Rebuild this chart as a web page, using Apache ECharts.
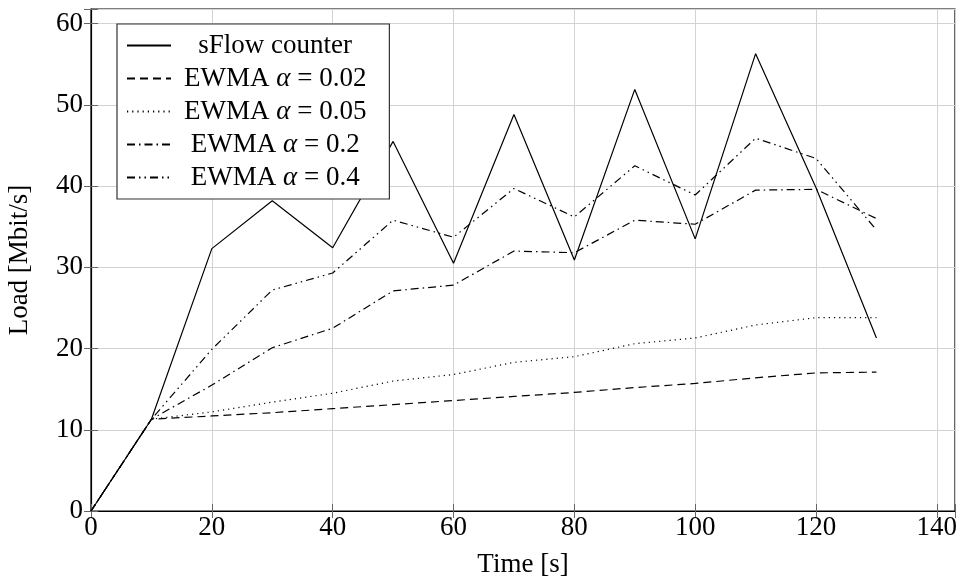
<!DOCTYPE html>
<html><head><meta charset="utf-8">
<script src="https://cdn.jsdelivr.net/npm/echarts@6/dist/echarts.min.js"></script>
<style>html,body{margin:0;padding:0;background:#fff}#c{width:961px;height:586px}</style>
</head><body><div id="c"></div>
<script>
const times = [0,10,20,30,40,50,60,70,80,90,100,110,120,130];
const sflow = [0, 11.3, 32.3, 38.2, 32.4, 45.5, 30.5, 48.8, 30.9, 51.9, 33.5, 56.3, 39.8, 21.3];
const ewma002 = [0, 11.3, 11.7, 12.1, 12.6, 13.1, 13.6, 14.1, 14.6, 15.2, 15.7, 16.4, 17.0, 17.1];
const ewma005 = [0, 11.3, 12.2, 13.4, 14.5, 16.0, 16.8, 18.3, 19.0, 20.6, 21.3, 22.9, 23.8, 23.8];
const ewma02 = [0, 11.3, 15.5, 20.1, 22.5, 27.1, 27.8, 32.0, 31.8, 35.8, 35.3, 39.5, 39.6, 36.0];
const ewma04 = [0, 11.3, 19.9, 27.2, 29.3, 35.8, 33.7, 39.7, 36.2, 42.5, 38.9, 45.9, 43.4, 34.6];
const xTicks = [0,20,40,60,80,100,120,140];
const yTicks = [0,10,20,30,40,50,60];
const seriesNames = ['sFlow counter','EWMA α = 0.02','EWMA α = 0.05','EWMA α = 0.2','EWMA α = 0.4'];

const FONT = '"Liberation Serif", "Times New Roman", serif';
const FS = 27;
const LFS = 27;
const dashes = ['solid', [8,5], [1.2,4], [8,4,1.5,4], [8,4,1.5,4,1.5,4]];
const values = [sflow, ewma002, ewma005, ewma02, ewma04];

const cv = document.createElement('canvas').getContext('2d');
function w(t, italic){ cv.font = (italic?'italic ':'') + LFS + 'px ' + FONT; return cv.measureText(t).width; }
function parts(name){
  const i = name.indexOf('α');
  if (i < 0) return [name, '', ''];
  return [name.slice(0,i), 'α', name.slice(i+1)];
}
const widths = seriesNames.map(n => { const p = parts(n); return w(p[0]) + w(p[1], true) + w(p[2]); });
const maxW = Math.max(...widths);
const rich = { i: {fontFamily: FONT, fontSize: LFS, fontStyle: 'italic', color:'#000', lineHeight: 27},
               n: {fontFamily: FONT, fontSize: LFS, color:'#000', lineHeight: 27} };
seriesNames.forEach((n, k) => {
  rich['p'+k] = {fontFamily: FONT, fontSize: LFS, color:'#000', lineHeight: 27, padding:[0,0,0,8 + (maxW - widths[k])/2]};
});

const chart = echarts.init(document.getElementById('c'));
chart.setOption({
  animation: false,
  backgroundColor: '#fff',
  grid: {left: 91, right: 6, top: 9, bottom: 75, show: true, borderColor: '#000', borderWidth: 1.2,
         containLabel: false, outerBoundsMode: 'none'},
  legend: {
    left: 117, top: 24, orient: 'vertical',
    padding: [8, 23, 8, 9], itemGap: 6, itemWidth: 44, itemHeight: 14,
    borderColor: '#333', borderWidth: 1.2, backgroundColor: '#fff',
    itemStyle: {opacity: 0},
    data: seriesNames,
    formatter: name => {
      const k = seriesNames.indexOf(name); const p = parts(name);
      if (!p[1]) return '{p'+k+'|'+p[0]+'}';
      return '{p'+k+'|'+p[0]+'}{i|'+p[1]+'}{n|'+p[2]+'}';
    },
    textStyle: {rich: rich, fontFamily: FONT, fontSize: LFS, color: '#000'}
  },
  xAxis: [{
    type: 'value', min: 0, max: 143, interval: 20,
    name: 'Time [s]', nameLocation: 'middle', nameGap: 40,
    nameTextStyle: {fontFamily: FONT, fontSize: FS, color: '#000'},
    axisLine: {show: true, onZero: false, lineStyle: {color: '#000', width: 1.2}},
    axisTick: {show: true, inside: true, length: 7, lineStyle: {color: '#666'}},
    axisLabel: {fontFamily: FONT, fontSize: FS, color: '#000', margin: 3,
      formatter: v => xTicks.includes(v) ? String(v) : ''},
    splitLine: {show: true, lineStyle: {color: '#d3d3d3', width: 1}}
  },{
    type: 'value', min: 0, max: 143, interval: 20, position: 'top',
    axisLine: {show: false}, axisTick: {show: true, inside: true, length: 7, lineStyle: {color: '#666'}},
    axisLabel: {show: false}, splitLine: {show: false}
  }],
  yAxis: [{
    type: 'value', min: 0, max: 61.8, interval: 10,
    name: 'Load [Mbit/s]', nameLocation: 'middle', nameGap: 58,
    nameTextStyle: {fontFamily: FONT, fontSize: FS, color: '#000'},
    axisLine: {show: true, onZero: false, lineStyle: {color: '#000', width: 1.2}},
    axisTick: {show: true, inside: true, length: 7, lineStyle: {color: '#666'}},
    axisLabel: {fontFamily: FONT, fontSize: FS, color: '#000', margin: 8,
      formatter: v => yTicks.includes(v) ? String(v) : ''},
    splitLine: {show: true, lineStyle: {color: '#d3d3d3', width: 1}}
  },{
    type: 'value', min: 0, max: 61.8, interval: 10, position: 'right',
    axisLine: {show: false}, axisTick: {show: true, inside: true, length: 7, lineStyle: {color: '#666'}},
    axisLabel: {show: false}, splitLine: {show: false}
  }],
  series: seriesNames.map((n, k) => ({
    name: n, type: 'line', symbol: 'none', xAxisIndex: 0, yAxisIndex: 0,
    lineStyle: {color: '#000', width: 1.2, type: dashes[k]},
    itemStyle: {color: '#000'},
    data: times.map((t, i) => [t, values[k][i]])
  }))
});
</script></body></html>
